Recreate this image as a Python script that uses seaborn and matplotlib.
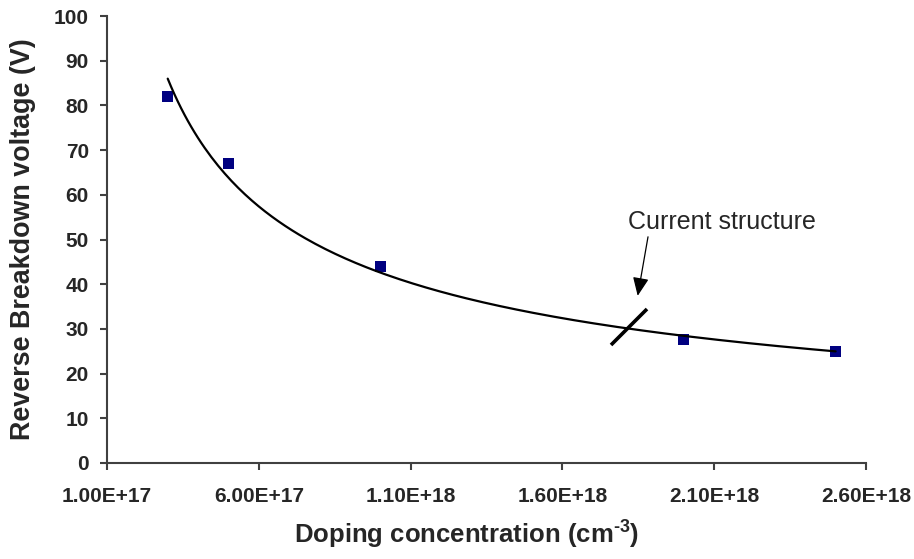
import numpy as np
import pandas as pd
import matplotlib
matplotlib.use("Agg")
import matplotlib.pyplot as plt
from matplotlib.markers import MarkerStyle
from matplotlib.transforms import Affine2D
import seaborn as sns

# ---- data ----
doping = [3.0e17, 5.0e17, 1.0e18, 2.0e18, 2.5e18]
breakdown_v = [82.0, 67.0, 44.0, 27.6, 24.9]
current_x = [1.82e18]
current_v = [30.4]
x_ticks = [1.0e17, 6.0e17, 1.1e18, 1.6e18, 2.1e18, 2.6e18]
x_ticklabels = ["1.00E+17", "6.00E+17", "1.10E+18", "1.60E+18", "2.10E+18", "2.60E+18"]
y_ticks = [0, 10, 20, 30, 40, 50, 60, 70, 80, 90, 100]
annotation_text = "Current structure"

sns.set_theme(style="white")
plt.rcParams["font.family"] = ["Liberation Sans", "DejaVu Sans"]
plt.rcParams["mathtext.fontset"] = "custom"
plt.rcParams["mathtext.rm"] = "Liberation Sans"
plt.rcParams["mathtext.bf"] = "Liberation Sans:bold"

df = pd.DataFrame({"x": doping, "y": breakdown_v})

# power-law trendline (least squares in log-log space, like Excel)
b, lna = np.polyfit(np.log(doping), np.log(breakdown_v), 1)
xf = np.linspace(min(doping), max(doping), 200)
fit = pd.DataFrame({"x": xf, "y": np.exp(lna) * xf ** b})

fig = plt.figure(figsize=(9.14, 5.59), dpi=100)
ax = fig.add_axes([107 / 914, 1 - 463 / 559, (866 - 107) / 914, (463 - 16) / 559])

sns.scatterplot(data=df, x="x", y="y", marker="s", color="#000080", s=60,
                edgecolor="none", ax=ax, zorder=2)
sns.lineplot(data=fit, x="x", y="y", color="black", lw=1.6, ax=ax, zorder=3)

cross = MarkerStyle("|", transform=Affine2D().rotate_deg(-45))
ax.plot(current_x, current_v, linestyle="none", marker=cross, markersize=37,
        markeredgewidth=2.6, color="black", zorder=4)

ax.text(2.126e18, 54.0, annotation_text, ha="center", va="center", fontsize=18)
ax.annotate("", xy=(1.848e18, 37.4), xytext=(1.882e18, 50.6),
            arrowprops=dict(arrowstyle="-|>,head_length=0.8,head_width=0.35",
                            color="black", lw=0.9, mutation_scale=14,
                            shrinkA=0, shrinkB=0))

ax.set_xlim(1.0e17, 2.6e18)
ax.set_ylim(0, 100)
ax.set_xticks(x_ticks)
ax.set_xticklabels(x_ticklabels)
ax.set_yticks(y_ticks)

for side in ["top", "right"]:
    ax.spines[side].set_visible(False)
for side in ["left", "bottom"]:
    ax.spines[side].set_color("#404040")
    ax.spines[side].set_linewidth(1.5)

ax.tick_params(axis="both", which="major", direction="out", length=5,
               width=1.5, color="#404040", labelsize=15, left=True, bottom=True)
ax.tick_params(axis="y", pad=8)
ax.tick_params(axis="x", pad=12)
for lab in ax.get_xticklabels() + ax.get_yticklabels():
    lab.set_fontweight("bold")

ax.set_xlabel("Doping concentration (cm$\\mathbf{^{\u20103}}$)", fontsize=18.5,
              fontweight="bold")
ax.set_ylabel("Reverse Breakdown voltage (V)", fontsize=19.4, fontweight="bold")
ax.xaxis.set_label_coords(0.474, -0.125)
ax.yaxis.set_label_coords(-0.093, 0.5)

fig.savefig("out.png", dpi=100)
